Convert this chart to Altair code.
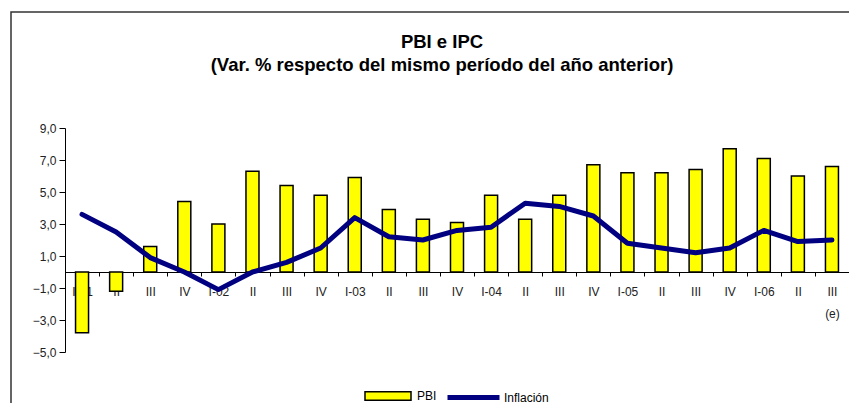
import json
import altair as alt
import pandas as pd

keys = ["I-01", "II-01", "III-01", "IV-01", "I-02", "II-02", "III-02", "IV-02",
        "I-03", "II-03", "III-03", "IV-03", "I-04", "II-04", "III-04", "IV-04",
        "I-05", "II-05", "III-05", "IV-05", "I-06", "II-06", "III-06"]
labels = ["I-01", "II", "III", "IV", "I-02", "II", "III", "IV",
          "I-03", "II", "III", "IV", "I-04", "II", "III", "IV",
          "I-05", "II", "III", "IV", "I-06", "II", ["III", "(e)"]]
pbi = [-3.8, -1.2, 1.6, 4.4, 3.0, 6.3, 5.4, 4.8, 5.9, 3.9, 3.3, 3.1,
       4.8, 3.3, 4.8, 6.7, 6.2, 6.2, 6.4, 7.7, 7.1, 6.0, 6.6]
inflacion = [3.6, 2.5, 0.9, 0.0, -1.1, 0.0, 0.6, 1.5, 3.4, 2.2, 2.0, 2.6,
             2.8, 4.3, 4.1, 3.5, 1.8, 1.5, 1.2, 1.5, 2.6, 1.9, 2.0]
y_ticks = [-5, -3, -1, 1, 3, 5, 7, 9]
title_lines = ["PBI e IPC", "(Var. % respecto del mismo período del año anterior)"]

df = pd.DataFrame({"key": keys, "PBI": pbi, "Inflacion": inflacion})

FONT = "Liberation Sans"
W, H = 784, 224
PAD_L, PAD_T = 57, 120
label_map = "{" + ", ".join(f"{json.dumps(k)}: {json.dumps(l)}" for k, l in zip(keys, labels)) + "}[datum.value]"

x_enc = alt.X(
    "key:N", sort=keys,
    scale=alt.Scale(paddingInner=0, paddingOuter=0),
    axis=alt.Axis(title=None, labelAngle=0, offset=-80, tickBand="extent",
                  labelExpr=label_map, tickSize=4, labelPadding=10,
                  labelFont=FONT, labelFontSize=12, labelColor="#222",
                  domainColor="#000", tickColor="#000", labelLineHeight=22,
                  labelBaseline="top", labelOverlap=False),
)
y_scale = alt.Scale(domain=[-5, 9], nice=False, zero=False)
y_axis = alt.Axis(title=None, values=y_ticks, grid=False, tickSize=6, labelPadding=3,
                  labelExpr="replace(format(datum.value, '.1f'), '.', ',')",
                  labelFont=FONT, labelFontSize=12, labelColor="#222",
                  domainColor="#000", tickColor="#000", labelOverlap=False)

bars = alt.Chart(df).transform_calculate(s="'PBI'").mark_bar(
    size=13, stroke="black", strokeWidth=1.5
).encode(
    x=x_enc,
    y=alt.Y("PBI:Q", scale=y_scale, axis=y_axis),
    fill=alt.Fill("s:N", scale=alt.Scale(domain=["PBI"], range=["#ffff00"]),
                  legend=alt.Legend(title=None, orient="none", legendX=299, legendY=244,
                                    symbolType="M-1,-0.18L1,-0.18L1,0.18L-1,0.18Z",
                                    symbolSize=2116, symbolStrokeColor="black",
                                    symbolStrokeWidth=1.5, labelFont=FONT, labelFontSize=12,
                                    labelColor="#000", labelOffset=5, padding=0)),
)

line = alt.Chart(df).transform_calculate(s2="'Inflación'").mark_line(
    strokeWidth=5, strokeCap="round", strokeJoin="round"
).encode(
    x=x_enc,
    y=alt.Y("Inflacion:Q", scale=y_scale, axis=y_axis),
    stroke=alt.Stroke("s2:N", scale=alt.Scale(domain=["Inflación"], range=["#000080"]),
                      legend=alt.Legend(title=None, orient="none", legendX=380, legendY=241,
                                        symbolType="stroke", symbolSize=2704,
                                        symbolStrokeWidth=5, labelFont=FONT, labelFontSize=12,
                                        labelColor="#000", labelOffset=2, padding=0)),
)

frame = alt.Chart(df).transform_filter("datum.key == 'I-01'").mark_rect(
    fill=None, stroke="#333", strokeWidth=1.5
).encode(
    x=alt.value(11 - 8 - PAD_L), x2=alt.value(W + 60), y=alt.value(12 - 8 - PAD_T), y2=alt.value(H + 120)
)

titles = pd.DataFrame({"t": ["\n".join(title_lines)]})
title_mark = alt.Chart(titles).mark_text(
    font=FONT, fontSize=18.5, fontWeight="bold", color="#000", baseline="alphabetic",
    align="center", lineBreak="\n", lineHeight=23
).encode(
    text="t:N",
    x=alt.value(442 - 8 - PAD_L),
    y=alt.value(48 - 8 - PAD_T),
)

chart = alt.layer(frame, bars, line, title_mark).resolve_legend(
    fill="independent", stroke="independent"
).properties(
    width=W, height=H,
    autosize=alt.AutoSizeParams(type="none"),
    padding={"left": PAD_L, "top": PAD_T, "right": 0, "bottom": 395 - PAD_T - H},
).configure_view(stroke=None)

chart.save("out.html", embed_options={"renderer": "svg", "actions": False})
